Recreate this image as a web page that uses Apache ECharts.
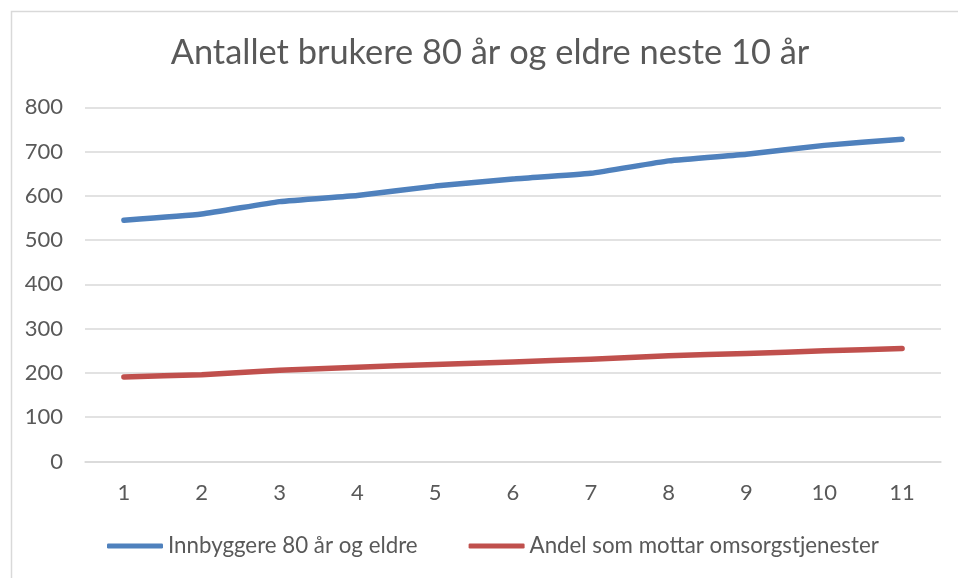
<!DOCTYPE html>
<html>
<head>
<meta charset="utf-8">
<script src="https://cdn.jsdelivr.net/npm/echarts@6/dist/echarts.min.js"></script>
<style>
html,body{margin:0;padding:0;background:#fff;}
#c{width:958px;height:578px;}
</style>
</head>
<body>
<div id="c"></div>
<script>
const titleText = 'Antallet brukere 80 år og eldre neste 10 år';
const categories = ['1','2','3','4','5','6','7','8','9','10','11'];
const seriesNames = ['Innbyggere 80 år og eldre', 'Andel som mottar omsorgstjenester'];
const innbyggere = [545, 559, 587, 601, 622, 638, 651, 679, 694, 714, 728];
const andel = [191, 196, 206, 213, 219, 225, 231, 239, 244, 250, 255];
const yTicks = [0, 100, 200, 300, 400, 500, 600, 700, 800];

const FONT = 'Lato';
const chart = echarts.init(document.getElementById('c'), null, {renderer:'canvas'});
chart.setOption({
  animation: false,
  backgroundColor: '#ffffff',
  graphic: [{
    type: 'rect', left: 9, top: 9, silent: true,
    shape: {x: 0, y: 0, width: 1000, height: 1000},
    style: {fill: 'none', stroke: '#d9d9d9', lineWidth: 1.5}
  }],
  title: {
    text: titleText,
    left: 485, textAlign: 'center', top: 31,
    textStyle: {fontFamily: FONT, fontSize: 34.4, fontWeight: 'normal', color: '#595959'}
  },
  legend: {
    left: 107, top: 535, padding: 0,
    itemWidth: 56, itemHeight: 5, itemGap: 51, itemTextGap: 4,
    icon: 'roundRect',
    textStyle: {fontFamily: FONT, fontSize: 22.3, color: '#595959'},
    data: seriesNames
  },
  grid: {left: 85, right: 17, top: 107.3, bottom: 116.5, containLabel: false},
  xAxis: {
    type: 'category', data: categories, boundaryGap: true,
    axisLine: {show: true, lineStyle: {color: '#d9d9d9', width: 1.5}},
    axisTick: {show: false},
    axisLabel: {fontFamily: FONT, fontSize: 22, color: '#595959', margin: 20}
  },
  yAxis: {
    type: 'value', min: yTicks[0], max: yTicks[yTicks.length-1], interval: 100,
    axisLine: {show: false}, axisTick: {show: false},
    splitLine: {lineStyle: {color: '#d9d9d9', width: 1.5}},
    axisLabel: {fontFamily: FONT, fontSize: 22, color: '#595959', margin: 22}
  },
  series: [
    {name: seriesNames[0], type: 'line', data: innbyggere, symbol: 'none', smooth: 0.15,
     lineStyle: {color: '#4f81bd', width: 5.5, cap: 'round', join: 'round'}, itemStyle: {color: '#4f81bd'}},
    {name: seriesNames[1], type: 'line', data: andel, symbol: 'none', smooth: 0.15,
     lineStyle: {color: '#c0504d', width: 5.5, cap: 'round', join: 'round'}, itemStyle: {color: '#c0504d'}}
  ]
});
</script>
</body>
</html>
